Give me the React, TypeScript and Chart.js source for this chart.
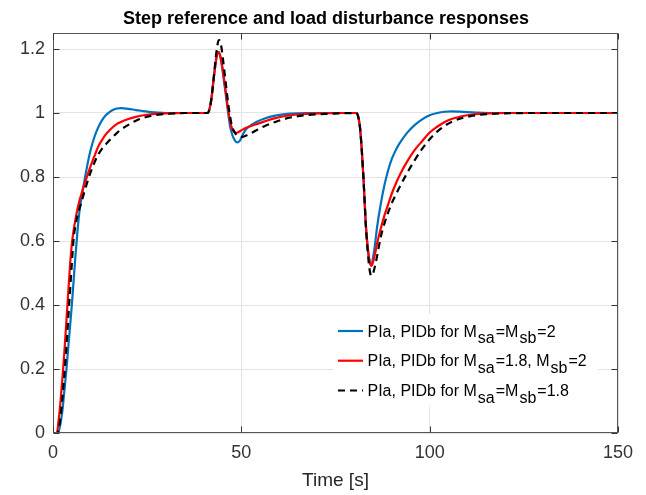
import React, { useEffect, useRef } from "react";
import { Chart, registerables } from "chart.js";

Chart.register(...registerables);

// ---- time samples (s), per segment ----
const timesStep = [0, 1, 1.5, 2, 2.5, 3, 3.5, 4, 4.5, 5, 5.5, 6, 6.5, 7, 7.5, 8, 9, 10, 11, 12, 13, 14, 15, 16, 17, 18, 20, 22, 24, 26, 28, 30, 35];
const timesLoad1 = [41, 41.5, 42, 42.5, 43, 43.5, 44, 44.5, 45, 45.5, 46, 46.5, 47, 47.5, 48, 48.5, 49, 49.5, 50, 50.5, 51, 52, 54, 56, 59, 63, 67, 72, 76];
const timesLoad2 = [80.5, 81, 81.5, 82, 82.5, 83, 83.5, 84, 84.5, 85, 85.5, 86, 87, 88, 89, 90, 91, 92, 94, 96, 98, 100, 102, 104, 106, 108, 110, 113, 116, 120, 130, 150];

// ---- series 1: PIa, PIDb for Msa=Msb=2 (blue) ----
const blueStep = [0, 0, 0.005, 0.03, 0.07, 0.13, 0.19, 0.26, 0.33, 0.40, 0.48, 0.56, 0.63, 0.69, 0.73, 0.765, 0.83, 0.885, 0.925, 0.955, 0.977, 0.993, 1.003, 1.01, 1.014, 1.015, 1.013, 1.009, 1.006, 1.003, 1.001, 1.0, 1.0];
const blueLoad1 = [1, 1.01, 1.04, 1.09, 1.14, 1.18, 1.19, 1.17, 1.135, 1.09, 1.045, 1.0, 0.96, 0.935, 0.92, 0.911, 0.908, 0.912, 0.922, 0.935, 0.945, 0.957, 0.972, 0.982, 0.992, 0.998, 1.0, 1.0, 1.0];
const blueLoad2 = [1, 0.99, 0.955, 0.88, 0.78, 0.66, 0.585, 0.54, 0.525, 0.55, 0.59, 0.64, 0.715, 0.775, 0.822, 0.858, 0.884, 0.905, 0.938, 0.962, 0.98, 0.993, 1.0, 1.004, 1.005, 1.004, 1.003, 1.001, 1.0, 1.0, 1.0, 1.0];

// ---- series 2: PIa, PIDb for Msa=1.8, Msb=2 (red) ----
const redStep = [0, 0, 0.04, 0.1, 0.17, 0.25, 0.34, 0.43, 0.52, 0.59, 0.635, 0.67, 0.70, 0.725, 0.745, 0.765, 0.8, 0.835, 0.865, 0.895, 0.915, 0.933, 0.946, 0.957, 0.966, 0.972, 0.981, 0.988, 0.993, 0.996, 0.998, 0.999, 1.0];
const redLoad1 = [1, 1.01, 1.04, 1.09, 1.14, 1.18, 1.19, 1.175, 1.14, 1.10, 1.055, 1.01, 0.975, 0.953, 0.942, 0.938, 0.939, 0.942, 0.946, 0.949, 0.952, 0.957, 0.965, 0.973, 0.984, 0.993, 0.997, 0.999, 1.0];
const redLoad2 = [1, 0.99, 0.955, 0.88, 0.78, 0.66, 0.585, 0.54, 0.522, 0.535, 0.56, 0.59, 0.638, 0.68, 0.715, 0.75, 0.779, 0.805, 0.848, 0.884, 0.912, 0.939, 0.957, 0.972, 0.982, 0.988, 0.993, 0.997, 0.999, 1.0, 1.0, 1.0];

// ---- series 3: PIa, PIDb for Msa=Msb=1.8 (black dashed) ----
const blackStep = [0, 0, 0.01, 0.05, 0.11, 0.18, 0.26, 0.35, 0.44, 0.53, 0.61, 0.65, 0.68, 0.70, 0.72, 0.74, 0.78, 0.815, 0.845, 0.87, 0.888, 0.902, 0.915, 0.927, 0.938, 0.948, 0.963, 0.976, 0.985, 0.991, 0.995, 0.997, 1.0];
const blackLoad1 = [1, 1.01, 1.04, 1.09, 1.15, 1.2, 1.228, 1.22, 1.18, 1.13, 1.08, 1.03, 0.99, 0.96, 0.945, 0.935, 0.929, 0.926, 0.925, 0.926, 0.928, 0.933, 0.946, 0.958, 0.972, 0.986, 0.993, 0.997, 0.999];
const blackLoad2 = [1, 0.99, 0.955, 0.88, 0.78, 0.66, 0.575, 0.515, 0.491, 0.5, 0.522, 0.55, 0.612, 0.655, 0.69, 0.72, 0.745, 0.768, 0.812, 0.852, 0.888, 0.918, 0.942, 0.96, 0.973, 0.982, 0.988, 0.994, 0.997, 0.999, 1.0, 1.0];

// ---- axes ----
const xTicks = [0, 50, 100, 150];
const yTicks = [0, 0.2, 0.4, 0.6, 0.8, 1, 1.2];
const yTickLabels = ["0", "0.2", "0.4", "0.6", "0.8", "1", "1.2"];
const titleText = "Step reference and load disturbance responses";
const xLabelText = "Time [s]";

// ---- legend (text parts; sub = subscript) ----
const legendBlue = [{ t: "PIa, PIDb for M" }, { t: "sa", sub: true }, { t: "=M" }, { t: "sb", sub: true }, { t: "=2" }];
const legendRed = [{ t: "PIa, PIDb for M" }, { t: "sa", sub: true }, { t: "=1.8, M" }, { t: "sb", sub: true }, { t: "=2" }];
const legendBlack = [{ t: "PIa, PIDb for M" }, { t: "sa", sub: true }, { t: "=M" }, { t: "sb", sub: true }, { t: "=1.8" }];

const times = [...timesStep, ...timesLoad1, ...timesLoad2];
const blue = [...blueStep, ...blueLoad1, ...blueLoad2];
const red = [...redStep, ...redLoad1, ...redLoad2];
const black = [...blackStep, ...blackLoad1, ...blackLoad2];

const FONT = '"Liberation Sans", Arial, Helvetica, sans-serif';
const BLUE = "#0072BD";
const RED = "#FF0000";
const BLACK = "#000000";

const toPts = (ys: number[]) => times.map((t, i) => ({ x: t, y: ys[i] }));

const decor = {
  id: "decor",
  afterDraw(chart: any) {
    const { ctx, chartArea } = chart;
    const { left, right, top, bottom } = chartArea;
    const xs = chart.scales.x;
    const ys = chart.scales.y;
    ctx.save();

    // axes box
    ctx.strokeStyle = "#555555";
    ctx.lineWidth = 1;
    const L = Math.round(left) + 0.5, R = Math.round(right) - 0.5, T = Math.round(top) + 0.5, B = Math.round(bottom) - 0.5;
    ctx.strokeRect(L, T, R - L, B - T);

    // inward tick marks
    ctx.strokeStyle = "#333333";
    ctx.beginPath();
    const tl = 6;
    xTicks.forEach((v) => {
      const px = Math.round(xs.getPixelForValue(v)) + 0.5;
      ctx.moveTo(px, B); ctx.lineTo(px, B - tl);
      ctx.moveTo(px, T); ctx.lineTo(px, T + tl);
    });
    yTicks.forEach((v) => {
      const py = Math.round(ys.getPixelForValue(v)) + 0.5;
      ctx.moveTo(L, py); ctx.lineTo(L + tl, py);
      ctx.moveTo(R, py); ctx.lineTo(R - tl, py);
    });
    ctx.stroke();

    // title
    ctx.fillStyle = "#000000";
    ctx.font = `bold 18px ${FONT}`;
    ctx.textAlign = "center";
    ctx.textBaseline = "alphabetic";
    ctx.fillText(titleText, 326, 24);

    // x label
    ctx.fillStyle = "#262626";
    ctx.font = `19px ${FONT}`;
    ctx.fillText(xLabelText, (left + right) / 2, 486);

    // legend
    ctx.fillStyle = "#ffffff";
    ctx.fillRect(333, 314, 265, 93);
    const entries = [
      { parts: legendBlue, color: BLUE, dash: [] as number[], base: 336.5 },
      { parts: legendRed, color: RED, dash: [] as number[], base: 366.2 },
      { parts: legendBlack, color: BLACK, dash: [7, 5], base: 396 },
    ];
    ctx.textAlign = "left";
    ctx.font = `16px ${FONT}`;
    entries.forEach((e) => {
      ctx.strokeStyle = e.color;
      ctx.lineWidth = 2.2;
      ctx.setLineDash(e.dash);
      ctx.beginPath();
      ctx.moveTo(338, e.base - 5.5);
      ctx.lineTo(363, e.base - 5.5);
      ctx.stroke();
      ctx.setLineDash([]);
      let x = 367.5;
      ctx.fillStyle = "#000000";
      e.parts.forEach((p: any) => {
        if (p.sub) x += 1;
        const yb = p.sub ? e.base + 6.5 : e.base;
        ctx.fillText(p.t, x, yb);
        x += ctx.measureText(p.t).width;
        if (p.sub) x += 1;
      });
    });

    ctx.restore();
  },
};

export default function App() {
  const ref = useRef<HTMLCanvasElement | null>(null);

  useEffect(() => {
    if (!ref.current) return;
    const ds = (label: string, ys: number[], color: string, order: number, dash: number[]) => ({
      label,
      data: toPts(ys),
      borderColor: color,
      backgroundColor: color,
      borderWidth: 2.2,
      borderDash: dash,
      pointRadius: 0,
      fill: false,
      cubicInterpolationMode: "monotone" as const,
      order,
    });
    const chart = new Chart(ref.current, {
      type: "line",
      data: {
        datasets: [
          ds("PIa, PIDb for Msa=Msb=2", blue, BLUE, 2, []),
          ds("PIa, PIDb for Msa=1.8, Msb=2", red, RED, 1, []),
          ds("PIa, PIDb for Msa=Msb=1.8", black, BLACK, 0, [7, 5]),
        ],
      },
      options: {
        responsive: false,
        animation: false,
        devicePixelRatio: 1,
        layout: { padding: { top: 33, right: 28, left: 0, bottom: 0 } },
        plugins: { legend: { display: false }, tooltip: { enabled: false }, title: { display: false } },
        scales: {
          x: {
            type: "linear",
            min: 0,
            max: 150,
            afterBuildTicks: (s: any) => { s.ticks = xTicks.map((v) => ({ value: v })); },
            afterFit: (s: any) => { s.height = 62; },
            ticks: {
              autoSkip: false,
              maxRotation: 0,
              padding: 9,
              color: "#333333",
              font: { family: FONT, size: 18 },
              callback: (v: any) => String(v),
            },
            grid: { color: "#e3e3e3", drawTicks: false, lineWidth: 1 },
            border: { display: false },
          },
          y: {
            type: "linear",
            min: 0,
            max: 1.25,
            afterBuildTicks: (s: any) => { s.ticks = yTicks.map((v) => ({ value: v })); },
            afterFit: (s: any) => { s.width = 53; },
            ticks: {
              autoSkip: false,
              padding: 8,
              color: "#333333",
              font: { family: FONT, size: 18 },
              callback: (v: any) => { const i = yTicks.indexOf(v); return i >= 0 ? yTickLabels[i] : ""; },
            },
            grid: { color: "#e3e3e3", drawTicks: false, lineWidth: 1 },
            border: { display: false },
          },
        },
      },
      plugins: [decor],
    });
    return () => chart.destroy();
  }, []);

  return (
    <div style={{ position: "absolute", left: 0, top: 0, width: 646, height: 495, background: "#ffffff" }}>
      <canvas ref={ref} width={646} height={495} style={{ display: "block" }} />
    </div>
  );
}
